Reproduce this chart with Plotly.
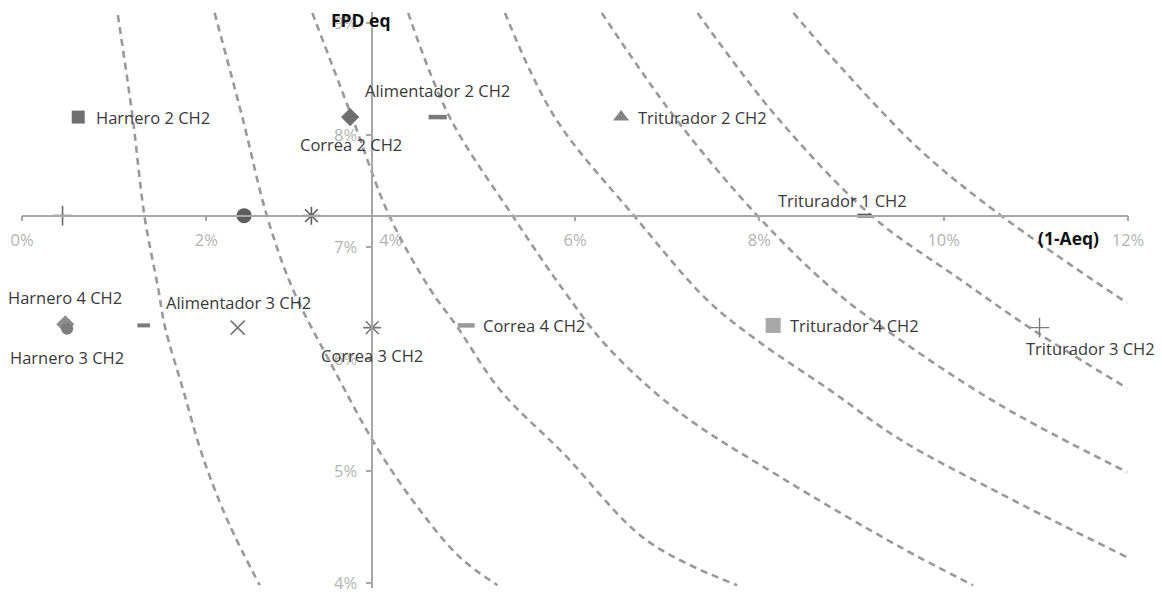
import plotly.graph_objects as go

# ---- data -------------------------------------------------------------
# Equipment points: (1-Aeq) in %, FPD eq in %
point_labels = [
    "Harnero 2 CH2", "Correa 2 CH2", "Alimentador 2 CH2", "Triturador 2 CH2",
    "", "", "", "Triturador 1 CH2",
    "Harnero 4 CH2", "Harnero 3 CH2", "", "Alimentador 3 CH2",
    "Correa 3 CH2", "Correa 4 CH2", "Triturador 4 CH2", "Triturador 3 CH2",
]
point_x = [0.61, 3.56, 4.51, 6.50,
           0.44, 2.41, 3.14, 9.14,
           0.47, 0.49, 1.32, 2.34,
           3.80, 4.82, 8.15, 11.04]
point_y = [8.16, 8.16, 8.16, 8.16,
           7.28, 7.28, 7.28, 7.28,
           6.31, 6.27, 6.30, 6.28,
           6.28, 6.30, 6.30, 6.28]

# Iso-risk reference curves (read-off points, drawn as smooth dashed lines)
curve_x = [
    [1.04, 1.20, 1.33, 1.48, 1.55, 1.75, 1.96, 2.24, 2.58],
    [2.09, 2.39, 2.66, 2.94, 3.37, 3.85, 4.29, 4.75, 5.16],
    [3.15, 3.58, 3.99, 4.43, 4.72, 5.19, 5.87, 6.78, 7.76],
    [4.19, 4.64, 5.33, 5.87, 6.35, 7.14, 8.22, 9.53, 10.32],
    [5.24, 5.78, 6.65, 7.43, 7.97, 8.77, 9.53, 10.61, 11.99],
    [6.29, 7.08, 7.99, 8.80, 9.53, 10.61, 11.99],
    [7.33, 8.19, 9.23, 10.18, 10.97, 11.99],
    [8.37, 8.77, 9.74, 10.64, 11.99],
]
curve_y = [
    [9.07, 8.16, 7.27, 6.62, 6.29, 5.72, 5.13, 4.54, 3.98],
    [9.09, 8.16, 7.27, 6.62, 5.93, 5.21, 4.68, 4.23, 3.98],
    [9.09, 8.16, 7.27, 6.62, 6.29, 5.72, 5.16, 4.38, 3.98],
    [9.09, 8.16, 7.27, 6.62, 6.11, 5.52, 4.95, 4.32, 3.98],
    [9.09, 8.16, 7.27, 6.53, 6.17, 5.72, 5.28, 4.80, 4.23],
    [9.09, 8.16, 7.27, 6.62, 6.17, 5.59, 4.99],
    [9.09, 8.16, 7.27, 6.71, 6.26, 5.74],
    [9.09, 8.71, 7.87, 7.27, 6.50],
]

x_ticks = [0, 2, 4, 6, 8, 10, 12]
x_tick_text = ["0%", "2%", "4%", "6%", "8%", "10%", "12%"]
y_ticks = [4, 5, 6, 7, 8, 9]
y_tick_text = ["4%", "5%", "6%", "7%", "8%", "9%"]

# where the axes cross each other
x_cross = 3.80   # y axis drawn at this (1-Aeq)
y_cross = 7.28   # x axis drawn at this FPD eq

# ---- styling ----------------------------------------------------------
marker_style = [
    ("square", 13, "#6f6f6f", 0),
    ("diamond", 14, "#6f6f6f", 0),
    ("line-ew-open", 13, "#7b7b7b", 4.5),
    ("triangle-up", 14, "#848484", 0),
    ("cross-thin-open", 14, "#6a6a6a", 1.6),
    ("circle", 15, "#5e5e5e", 0),
    ("asterisk-open", 15, "#5e5e5e", 1.6),
    ("line-ew-open", 10, "#5e5e5e", 4),
    ("diamond", 14, "#8e8e8e", 0),
    ("circle", 12, "#7d7d7d", 0),
    ("line-ew-open", 9, "#7b7b7b", 4),
    ("x-thin-open", 14, "#777777", 1.6),
    ("asterisk-open", 15, "#777777", 1.6),
    ("line-ew-open", 12, "#999999", 4.5),
    ("square", 15, "#a8a8a8", 0),
    ("cross-thin-open", 14, "#7b7b7b", 1.4),
]
# label placement relative to its marker: (xanchor, xshift, yshift)
label_place = [
    ("left", 16, 0), ("center", 1, -27), ("center", 0, 27), ("left", 15, 0),
    None, None, None, ("center", -22, 15),
    ("center", 0, 27), ("center", 0, -29), None, ("center", 1, 25),
    ("center", 0, -28), ("left", 15, 0), ("left", 15, 0), ("center", 51, -21),
]

W, H = 1162, 593
ml, mr, mt, mb = 22, 34, 12, 5
px_per_y = 112.0
y_top = 9 + (23 - mt) / px_per_y
y_bot = y_top - (H - mt - mb) / px_per_y
x_lo, x_hi = 0, 12

fig = go.Figure()

for cx, cy in zip(curve_x, curve_y):
    fig.add_trace(go.Scatter(
        x=cx, y=cy, mode="lines",
        line=dict(color="#9a9a9a", width=2.6, dash="7px,5px",
                  shape="spline", smoothing=1.0),
        hoverinfo="skip", showlegend=False,
    ))

label_font = dict(family="'Open Sans', sans-serif", size=16.5, color="#3a3a3a")
for i, (xv, yv, lab) in enumerate(zip(point_x, point_y, point_labels)):
    sym, size, col, lw = marker_style[i]
    if lw:
        mk = dict(symbol=sym, size=size, color=col, line=dict(color=col, width=lw))
    else:
        mk = dict(symbol=sym, size=size, color=col, line=dict(width=0))
    fig.add_trace(go.Scatter(x=[xv], y=[yv], mode="markers", marker=mk,
                             name=lab or "punto", showlegend=False))
    if lab and label_place[i]:
        xa, xs, ys = label_place[i]
        fig.add_annotation(x=xv, y=yv, text=lab, showarrow=False,
                           xanchor=xa, yanchor="middle", xshift=xs, yshift=ys,
                           font=label_font)

tick_font = dict(family="'Open Sans', sans-serif", size=16.5, color="#b3b3b3")
title_font = dict(family="'Open Sans', sans-serif", size=17.5, color="#111111")

fig.add_annotation(x=x_cross, y=y_top, yref="y", xref="x", text="<b>FPD eq</b>",
                   showarrow=False, xanchor="center", yanchor="middle",
                   xshift=-11, yshift=-8, font=title_font)
fig.add_annotation(x=11.35, y=y_cross, text="<b>(1-Aeq)</b>", showarrow=False,
                   xanchor="center", yanchor="middle", yshift=-22, font=title_font)

fig.update_layout(
    width=W, height=H,
    margin=dict(l=ml, r=mr, t=mt, b=mb, pad=0, autoexpand=False),
    paper_bgcolor="white", plot_bgcolor="white",
    xaxis=dict(range=[x_lo, x_hi], tickvals=x_ticks, ticktext=x_tick_text,
               showgrid=False, zeroline=False, showline=True,
               linecolor="#a8a8a8", linewidth=1.5,
               ticks="outside", ticklen=5, tickcolor="#a8a8a8", tickwidth=1.5,
               tickfont=tick_font, anchor="free", automargin=False,
               ticklabeloverflow="allow",
               position=(y_cross - y_bot) / (y_top - y_bot),
               ticklabelstandoff=5),
    yaxis=dict(range=[y_bot, y_top], tickvals=y_ticks, ticktext=y_tick_text,
               showgrid=False, zeroline=False, showline=True,
               linecolor="#a8a8a8", linewidth=1.5,
               ticks="outside", ticklen=5, tickcolor="#a8a8a8", tickwidth=1.5,
               tickfont=tick_font, anchor="free", automargin=False,
               ticklabeloverflow="allow",
               position=(x_cross - x_lo) / (x_hi - x_lo),
               ticklabelstandoff=6),
)

fig.write_html("out.html")
